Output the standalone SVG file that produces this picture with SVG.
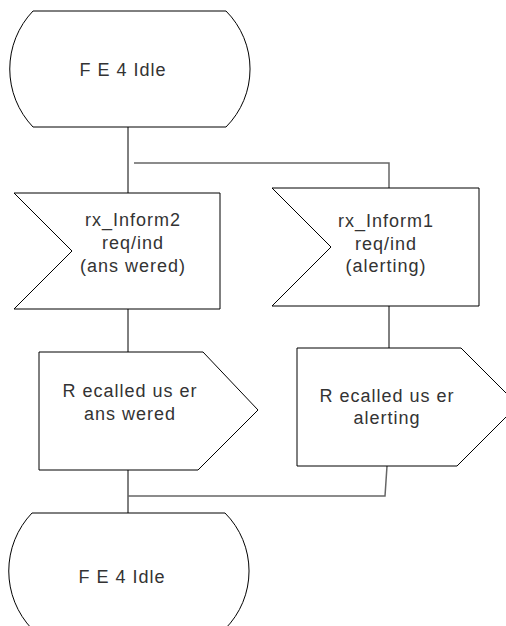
<svg xmlns="http://www.w3.org/2000/svg" width="506" height="626" viewBox="0 0 506 626">
<style>
.shape{fill:#fff;stroke:#000;stroke-width:1}
.t{font-family:"Liberation Sans",Arial,sans-serif;font-size:18px;fill:#333;text-anchor:middle;letter-spacing:1px}
.c{fill:none;stroke:#000;stroke-width:1}
.g{fill:none;stroke:#666;stroke-width:1.5}
</style>
<rect width="506" height="626" fill="#fff"/>
<g id="connectors">
<path class="c" d="M128,127 V193"/>
<path class="g" d="M134,163 H389 V188"/>
<path class="c" d="M128,309 V352"/>
<path class="c" d="M389,306 V348"/>
<path class="c" d="M128,470 V513"/>
<path class="g" d="M128,496 H385 L387,466"/>
</g>
<g id="state_top">
<path class="shape" d="M33,11 H226 A82,82 0 0 1 226,127 H33 A84,84 0 0 1 33,11 Z"/>
<text class="t" x="123" y="76">F E 4 Idle</text>
</g>
<g id="input_inform2">
<path class="shape" d="M14,193 H220 V309 H14 L72,251 Z"/>
<text class="t" x="133" y="226">rx_Inform2</text>
<text class="t" x="133" y="249">req/ind</text>
<text class="t" x="133" y="272">(ans wered)</text>
</g>
<g id="input_inform1">
<path class="shape" d="M272,188 H479 V306 H272 L331,247 Z"/>
<text class="t" x="386" y="227">rx_Inform1</text>
<text class="t" x="386" y="250">req/ind</text>
<text class="t" x="386" y="272">(alerting)</text>
</g>
<g id="output_answered">
<path class="shape" d="M39,352 H203 L258,410 L198,470 H39 Z"/>
<text class="t" x="130" y="397">R ecalled us er</text>
<text class="t" x="130" y="420">ans wered</text>
</g>
<g id="output_alerting">
<path class="shape" d="M297,348 H461 L518,405 L457,466 H297 Z"/>
<text class="t" x="387" y="402">R ecalled us er</text>
<text class="t" x="387" y="424">alerting</text>
</g>
<g id="state_bottom">
<path class="shape" d="M32,513 H225 A82,82 0 0 1 225,629 H32 A84,84 0 0 1 32,513 Z"/>
<text class="t" x="122" y="583">F E 4 Idle</text>
</g>
</svg>
